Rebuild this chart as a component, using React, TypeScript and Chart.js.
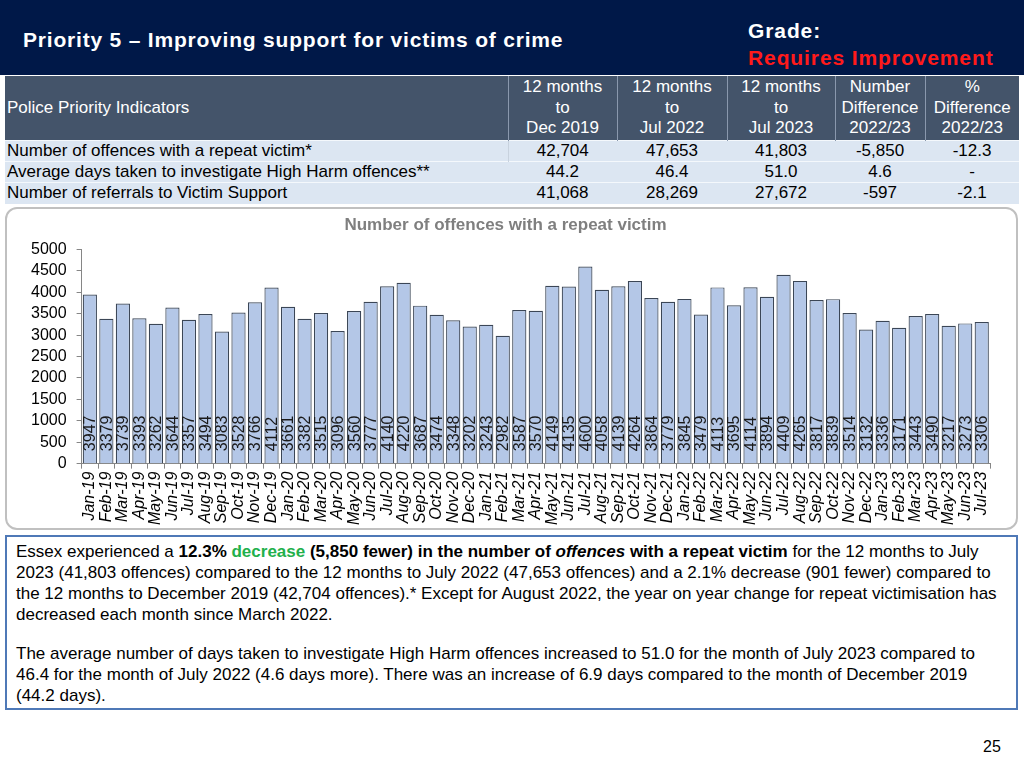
import React, { useEffect, useRef } from "react";
import { Chart, registerables } from "chart.js";

Chart.register(...registerables);

const months: string[] = [
  "Jan-19","Feb-19","Mar-19","Apr-19","May-19","Jun-19","Jul-19","Aug-19","Sep-19","Oct-19","Nov-19","Dec-19",
  "Jan-20","Feb-20","Mar-20","Apr-20","May-20","Jun-20","Jul-20","Aug-20","Sep-20","Oct-20","Nov-20","Dec-20",
  "Jan-21","Feb-21","Mar-21","Apr-21","May-21","Jun-21","Jul-21","Aug-21","Sep-21","Oct-21","Nov-21","Dec-21",
  "Jan-22","Feb-22","Mar-22","Apr-22","May-22","Jun-22","Jul-22","Aug-22","Sep-22","Oct-22","Nov-22","Dec-22",
  "Jan-23","Feb-23","Mar-23","Apr-23","May-23","Jun-23","Jul-23",
];

const repeatVictimOffences: number[] = [
  3947,3379,3739,3393,3262,3644,3357,3494,3083,3528,3766,4112,
  3661,3382,3515,3096,3560,3777,4140,4220,3687,3474,3348,3202,
  3243,2982,3587,3570,4149,4135,4600,4058,4139,4264,3864,3779,
  3845,3479,4113,3695,4114,3894,4409,4265,3817,3839,3514,3132,
  3336,3171,3443,3490,3217,3273,3306,
];

const yTicks = { min: 0, max: 5000, step: 500 };

const tableHeaders: string[] = [
  "Police Priority Indicators",
  "12 months\nto\nDec 2019",
  "12 months\nto\nJul 2022",
  "12 months\nto\nJul 2023",
  "Number\nDifference\n2022/23",
  "%\nDifference\n2022/23",
];

const indicatorNames: string[] = [
  "Number of offences with a repeat victim*",
  "Average days taken to investigate High Harm offences**",
  "Number of referrals to Victim\u00a0Support",
];
const dec2019: string[] = ["42,704", "44.2", "41,068"];
const jul2022: string[] = ["47,653", "46.4", "28,269"];
const jul2023: string[] = ["41,803", "51.0", "27,672"];
const numDiff: string[] = ["-5,850", "4.6", "-597"];
const pctDiff: string[] = ["-12.3", "-", "-2.1"];

const colWidths = [503, 109, 110, 108, 90, 94];

const FONT = "'Liberation Sans', Arial, sans-serif";

const barLabelPlugin = {
  id: "barLabels",
  afterDatasetsDraw(chart: any) {
    const ctx = chart.ctx;
    const meta = chart.getDatasetMeta(0);
    const data = chart.data.datasets[0].data as number[];
    ctx.save();
    ctx.font = `16px ${FONT}`;
    ctx.fillStyle = "#1a1a1a";
    ctx.textAlign = "left";
    ctx.textBaseline = "middle";
    meta.data.forEach((el: any, i: number) => {
      ctx.save();
      ctx.translate(el.x + 1, el.base - 12);
      ctx.rotate(-Math.PI / 2);
      ctx.fillText(String(data[i]), 0, 0);
      ctx.restore();
    });
    ctx.restore();
  },
};

function RepeatVictimChart() {
  const ref = useRef<HTMLCanvasElement | null>(null);
  useEffect(() => {
    if (!ref.current) return;
    const chart = new Chart(ref.current, {
      type: "bar",
      data: {
        labels: months,
        datasets: [
          {
            data: repeatVictimOffences,
            backgroundColor: "#b4c7e7",
            borderColor: "#3b4656",
            borderWidth: 1.2,
            barPercentage: 0.86,
            categoryPercentage: 1.0,
          },
        ],
      },
      options: {
        animation: false,
        responsive: false,
        maintainAspectRatio: false,
        layout: { padding: { left: 14, right: 26, top: 0, bottom: 0 } },
        plugins: {
          legend: { display: false },
          tooltip: { enabled: false },
          title: {
            display: true,
            text: "Number of offences with a repeat victim",
            color: "#7f7f7f",
            font: { family: FONT, size: 17, weight: "bold" },
            padding: { top: 6, bottom: 14 },
          },
        },
        scales: {
          x: {
            grid: {
              display: true,
              drawOnChartArea: false,
              drawTicks: true,
              tickLength: 5,
              color: "#868686",
            },
            border: { color: "#868686" },
            ticks: {
              minRotation: 90,
              maxRotation: 90,
              autoSkip: false,
              color: "#000",
              padding: 3,
              font: { family: FONT, size: 16, style: "italic" },
            },
          },
          y: {
            min: yTicks.min,
            max: yTicks.max,
            grid: {
              display: true,
              drawOnChartArea: false,
              drawTicks: true,
              tickLength: 5,
              color: "#868686",
            },
            border: { color: "#868686" },
            ticks: {
              stepSize: yTicks.step,
              autoSkip: false,
              color: "#000",
              padding: 10,
              font: { family: FONT, size: 16 },
              callback: (v: any) => String(v),
            },
          },
        },
      },
      plugins: [barLabelPlugin],
    });
    return () => chart.destroy();
  }, []);
  return <canvas ref={ref} width={1009} height={319} style={{ display: "block" }} />;
}

export default function App() {
  return (
    <div
      style={{
        position: "fixed",
        left: 0,
        top: 0,
        width: 1024,
        height: 768,
        background: "#fff",
        fontFamily: FONT,
        overflow: "hidden",
      }}
    >
      {/* Header */}
      <div
        style={{
          position: "absolute",
          left: 0,
          top: 0,
          width: 1024,
          height: 75,
          background: "#001848",
        }}
      >
        <div
          style={{
            position: "absolute",
            left: 23,
            top: 27,
            color: "#fff",
            fontWeight: "bold",
            fontSize: 21,
            letterSpacing: 0.8,
            lineHeight: "26px",
            whiteSpace: "nowrap",
          }}
        >
          Priority 5 – Improving support for victims of crime
        </div>
        <div
          style={{
            position: "absolute",
            left: 748,
            top: 17,
            color: "#fff",
            fontWeight: "bold",
            fontSize: 21,
            letterSpacing: 0.9,
            lineHeight: "27px",
            whiteSpace: "nowrap",
          }}
        >
          Grade:
          <br />
          <span style={{ color: "#ff1a1a" }}>Requires Improvement</span>
        </div>
      </div>

      {/* Table */}
      <table
        style={{
          position: "absolute",
          left: 5,
          top: 76,
          borderCollapse: "collapse",
          fontFamily: FONT,
          fontSize: 17,
          tableLayout: "fixed",
          width: colWidths.reduce((a, b) => a + b, 0),
        }}
      >
        <colgroup>
          {colWidths.map((w, i) => (
            <col key={i} style={{ width: w }} />
          ))}
        </colgroup>
        <tbody>
          <tr style={{ height: 64, background: "#44546a", color: "#fff" }}>
            {tableHeaders.map((h, i) => (
              <td
                key={i}
                style={{
                  padding: "0 2px",
                  textAlign: i === 0 ? "left" : "center",
                  lineHeight: "20.5px",
                  whiteSpace: "pre",
                  borderRight: i < 5 ? "1px solid #8a98ad" : "none",
                  verticalAlign: "middle",
                }}
              >
                {h}
              </td>
            ))}
          </tr>
          {indicatorNames.map((name, r) => (
            <tr key={r} style={{ height: 21.3, background: "#dce6f2", color: "#000" }}>
              {[name, dec2019[r], jul2022[r], jul2023[r], numDiff[r], pctDiff[r]].map((v, i) => (
                <td
                  key={i}
                  style={{
                    padding: i === 0 ? "0 2px" : 0,
                    textAlign: i === 0 ? "left" : "center",
                    lineHeight: "20px",
                    whiteSpace: "nowrap",
                    borderTop: "1px solid #f4f8fc",
                    borderRight: r === 0 && i === 0 ? "1px solid #c8d2de" : "none",
                  }}
                >
                  {v}
                </td>
              ))}
            </tr>
          ))}
        </tbody>
      </table>

      {/* Chart box */}
      <div
        style={{
          position: "absolute",
          left: 5,
          top: 207,
          width: 1009,
          height: 319,
          border: "2px solid #c0c0c0",
          borderRadius: 12,
          background: "#fff",
          overflow: "hidden",
        }}
      >
        <RepeatVictimChart />
      </div>

      {/* Text box */}
      <div
        style={{
          position: "absolute",
          left: 5,
          top: 535,
          width: 1013,
          height: 175,
          border: "2px solid #4f79b7",
          boxSizing: "border-box",
          background: "#fff",
          padding: "4px 0 0 9px",
          fontSize: 17,
          lineHeight: "21px",
          color: "#000",
          whiteSpace: "nowrap",
        }}
      >
        Essex experienced a <b>12.3%</b> <b style={{ color: "#22b04b" }}>decrease</b>{" "}
        <b>
          (5,850 fewer) in the number of <i>offences</i> with a repeat victim
        </b>{" "}
        for the 12 months to July
        <br />
        2023 (41,803 offences) compared to the 12 months to July 2022 (47,653 offences) and a 2.1% decrease (901 fewer) compared to
        <br />
        the 12 months to December 2019 (42,704 offences).* Except for August 2022, the year on year change for repeat victimisation has
        <br />
        decreased each month since March 2022.
        <div style={{ height: 18 }} />
        The average number of days taken to investigate High Harm offences increased to 51.0 for the month of July 2023 compared to
        <br />
        46.4 for the month of July 2022 (4.6 days more). There was an increase of 6.9 days compared to the month of December 2019
        <br />
        (44.2 days).
      </div>

      {/* Page number */}
      <div
        style={{
          position: "absolute",
          left: 983,
          top: 738,
          fontSize: 16,
          color: "#000",
        }}
      >
        25
      </div>
    </div>
  );
}
